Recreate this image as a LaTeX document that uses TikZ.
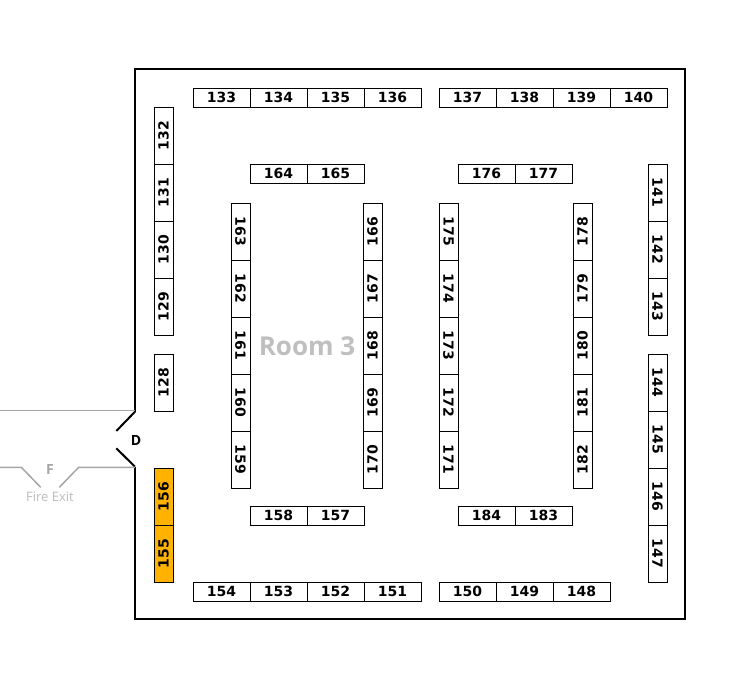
\documentclass[tikz,border=0pt]{standalone}
\usepackage{fontspec}
\setmainfont{DejaVu Sans}
\newfontfamily\osans{Open Sans}
\definecolor{boothorange}{HTML}{FFB300}
\definecolor{roomgray}{HTML}{BFBFBF}
\definecolor{exitgray}{HTML}{A6A6A6}
\definecolor{exittext}{HTML}{BBBBBB}
\tikzset{
  booth/.style={draw=black, line width=0.8pt, minimum width=57pt, minimum height=19pt,
    inner sep=0pt, outer sep=0pt, font=\fontsize{14}{14}\selectfont\bfseries},
  vup/.style={booth, rotate=90},
  vdown/.style={booth, rotate=-90},
  wall/.style={draw=black, line width=2pt},
  exitline/.style={draw=exitgray, line width=1.5pt}
}
\begin{document}
\begin{tikzpicture}[x=1pt,y=-1pt]
\useasboundingbox (0,0) rectangle (755,689);
% walls
\draw[wall] (135,411.7) -- (135,69) -- (685,69) -- (685,619) -- (135,619) -- (135,466.7);
\draw[wall] (135,411.7) -- (116.3,431);
\draw[wall] (116.3,448.3) -- (135,466.7);
\node[font=\osans\fontsize{14}{14}\selectfont\bfseries] (door) at (136,440) {D};
% fire exit
\draw[exitline] (0,410.7) -- (135,410.7);
\draw[exitline] (0,467.3) -- (21.3,467.3) -- (40.7,487.3);
\draw[exitline] (59.3,487.3) -- (78.7,467.3) -- (135,467.3);
\node[font=\osans\fontsize{14}{14}\selectfont\bfseries, text=exitgray] (fire) at (50,469) {F};
\node[font=\osans\fontsize{13}{13}\selectfont, text=exittext] (fireexit) at (50,496.5) {Fire Exit};
% room label
\node[font=\osans\fontsize{26}{26}\selectfont\bfseries, text=roomgray] (room) at (307,346) {Room 3};
% horizontal booths
\foreach \n/\x/\y in {133/221.5/97.5,134/278.5/97.5,135/335.5/97.5,136/392.5/97.5,
  137/467.5/97.5,138/524.5/97.5,139/581.5/97.5,140/638.5/97.5,
  164/278.5/173.5,165/335.5/173.5,176/486.5/173.5,177/543.5/173.5,
  158/278.5/515.5,157/335.5/515.5,184/486.5/515.5,183/543.5/515.5,
  154/221.5/591.5,153/278.5/591.5,152/335.5/591.5,151/392.5/591.5,
  150/467.5/591.5,149/524.5/591.5,148/581.5/591.5}
  \node[booth] (b\n) at (\x,\y) {\n};
% vertical booths reading upward
\foreach \n/\x/\y in {132/163.5/135.5,131/163.5/192.5,130/163.5/249.5,129/163.5/306.5,
  128/163.5/382.5,
  166/372.5/231.5,167/372.5/288.5,168/372.5/345.5,169/372.5/402.5,170/372.5/459.5,
  178/582.5/231.5,179/582.5/288.5,180/582.5/345.5,181/582.5/402.5,182/582.5/459.5}
  \node[vup] (b\n) at (\x,\y) {\n};
\foreach \n/\x/\y in {156/163.5/496.5,155/163.5/553.5}
  \node[vup, fill=boothorange] (b\n) at (\x,\y) {\n};
% vertical booths reading downward
\foreach \n/\x/\y in {163/240.5/231.5,162/240.5/288.5,161/240.5/345.5,160/240.5/402.5,159/240.5/459.5,
  175/448.5/231.5,174/448.5/288.5,173/448.5/345.5,172/448.5/402.5,171/448.5/459.5,
  141/657.5/192.5,142/657.5/249.5,143/657.5/306.5,
  144/657.5/382.5,145/657.5/439.5,146/657.5/496.5,147/657.5/553.5}
  \node[vdown] (b\n) at (\x,\y) {\n};
\end{tikzpicture}
\end{document}
